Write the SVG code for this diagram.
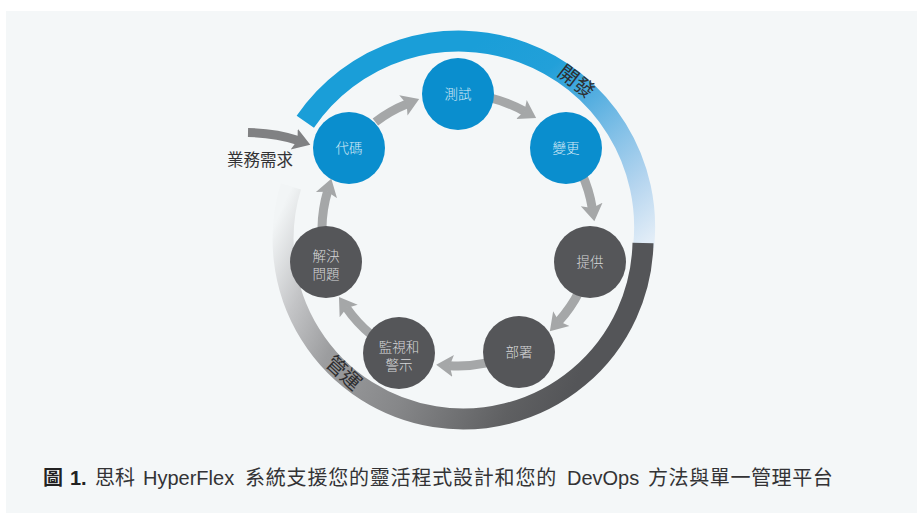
<svg xmlns="http://www.w3.org/2000/svg" width="917" height="513" viewBox="0 0 917 513">
<defs>
<style>
.t{font-family:"Liberation Sans","Noto Sans CJK TC",sans-serif}
.nb{fill:#0a8ece}
.nd{fill:#555659}
.lb{fill:#d3e9f6;font-size:13.5px;text-anchor:middle;font-weight:300}
.ld{fill:#d8d8d9;font-size:13.5px;text-anchor:middle;font-weight:300}
.arr{fill:none;stroke:#a5a7a8;stroke-width:9;marker-end:url(#ah)}
.ring{fill:none;stroke-width:21}
.rl{fill:#2e2e30;font-size:20px;text-anchor:middle}
</style>
<marker id="ah" markerUnits="userSpaceOnUse" markerWidth="18" markerHeight="24" viewBox="0 0 18 24" refX="4" refY="12" orient="auto">
<path d="M0,1 L17,12 L0,23 L3.5,12 Z" fill="#a5a7a8"/>
</marker>
<marker id="ah2" markerUnits="userSpaceOnUse" markerWidth="18" markerHeight="24" viewBox="0 0 18 24" refX="4" refY="12" orient="auto">
<path d="M0,1 L17,12 L0,23 L3.5,12 Z" fill="#808183"/>
</marker>
<linearGradient id="gBlue" gradientUnits="userSpaceOnUse" x1="480" y1="40" x2="645" y2="245">
<stop offset="0" stop-color="#1a9ed8"/>
<stop offset="0.25" stop-color="#22a0d9"/>
<stop offset="0.4" stop-color="#4aaade"/>
<stop offset="0.6" stop-color="#82c0e7"/>
<stop offset="0.8" stop-color="#b5d5ef"/>
<stop offset="1" stop-color="#e2edf7"/>
</linearGradient>
<linearGradient id="gGray" gradientUnits="userSpaceOnUse" x1="600" y1="330" x2="290" y2="190">
<stop offset="0" stop-color="#545558"/>
<stop offset="0.15" stop-color="#5f6062"/>
<stop offset="0.45" stop-color="#868789"/>
<stop offset="0.7" stop-color="#9c9d9f"/>
<stop offset="0.85" stop-color="#c3c4c6"/>
<stop offset="1" stop-color="#f2f5f6"/>
</linearGradient>
</defs>
<rect x="0" y="0" width="917" height="513" fill="#ffffff"/>
<rect x="6" y="11" width="911" height="502" fill="#f4f7f8"/>

<g id="ring">
<path class="ring" stroke="url(#gBlue)" d="M305.3,121.8 A186,186 0 0 1 643.6,246.8"/>
<path class="ring" stroke="url(#gGray)" d="M643,242.9 A180,180 0 1 1 290.9,186.4"/>
<text class="t rl" transform="translate(572,87) rotate(37.6)">開發</text>
<text class="t rl" font-size="19" transform="translate(339,378) rotate(42.8)">管運</text>
</g>

<g id="connectors">
<path class="arr" d="M490.9,98 A136,136 0 0 1 524.8,111.5"/>
<path class="arr" d="M581.7,173.4 A136,136 0 0 1 592.3,208.4"/>
<path class="arr" d="M579.3,291.4 A136,136 0 0 1 558.6,321.5"/>
<path class="arr" d="M485.6,363.2 A136,136 0 0 1 449.2,365.7"/>
<path class="arr" d="M371.1,334.6 A136,136 0 0 1 346.4,307.7"/>
<path class="arr" d="M322,227.3 A136,136 0 0 1 327.6,191.2"/>
<path class="arr" d="M375.4,122 A136,136 0 0 1 407.1,103.9"/>
<path d="M248,132.5 Q276,133 298,140.5" fill="none" stroke="#808183" stroke-width="9" marker-end="url(#ah2)"/>
</g>

<g id="input">
<text class="t" x="293" y="166" font-size="16.5" fill="#333335" text-anchor="end">業務需求</text>
</g>

<g id="n-test"><circle class="nb" cx="458" cy="94" r="36"/><text class="t lb" x="458" y="99">測試</text></g>
<g id="n-change"><circle class="nb" cx="566" cy="148" r="36"/><text class="t lb" x="566" y="153">變更</text></g>
<g id="n-code"><circle class="nb" cx="349" cy="148" r="36"/><text class="t lb" x="349" y="153">代碼</text></g>
<g id="n-provide"><circle class="nd" cx="590" cy="262" r="36"/><text class="t ld" x="590" y="267">提供</text></g>
<g id="n-deploy"><circle class="nd" cx="519" cy="352" r="36"/><text class="t ld" x="519" y="357">部署</text></g>
<g id="n-monitor"><circle class="nd" cx="399" cy="353" r="36"/><text class="t ld" x="399" y="351.5">監視和</text><text class="t ld" x="399" y="369.5">警示</text></g>
<g id="n-resolve"><circle class="nd" cx="326" cy="262" r="36"/><text class="t ld" x="326" y="260.5">解決</text><text class="t ld" x="326" y="278.5">問題</text></g>

<g id="caption">
<text class="t" y="485" font-size="20" fill="#333335"><tspan x="43" font-weight="bold" fill="#222">圖</tspan><tspan x="70" font-weight="bold" fill="#222">1.</tspan><tspan x="95">思科</tspan><tspan x="143">HyperFlex</tspan><tspan x="245" letter-spacing="0.8">系統支援您的靈活程式設計和您的</tspan><tspan x="567">DevOps</tspan><tspan x="648" letter-spacing="0.6">方法與單一管理平台</tspan></text>
</g>
</svg>
